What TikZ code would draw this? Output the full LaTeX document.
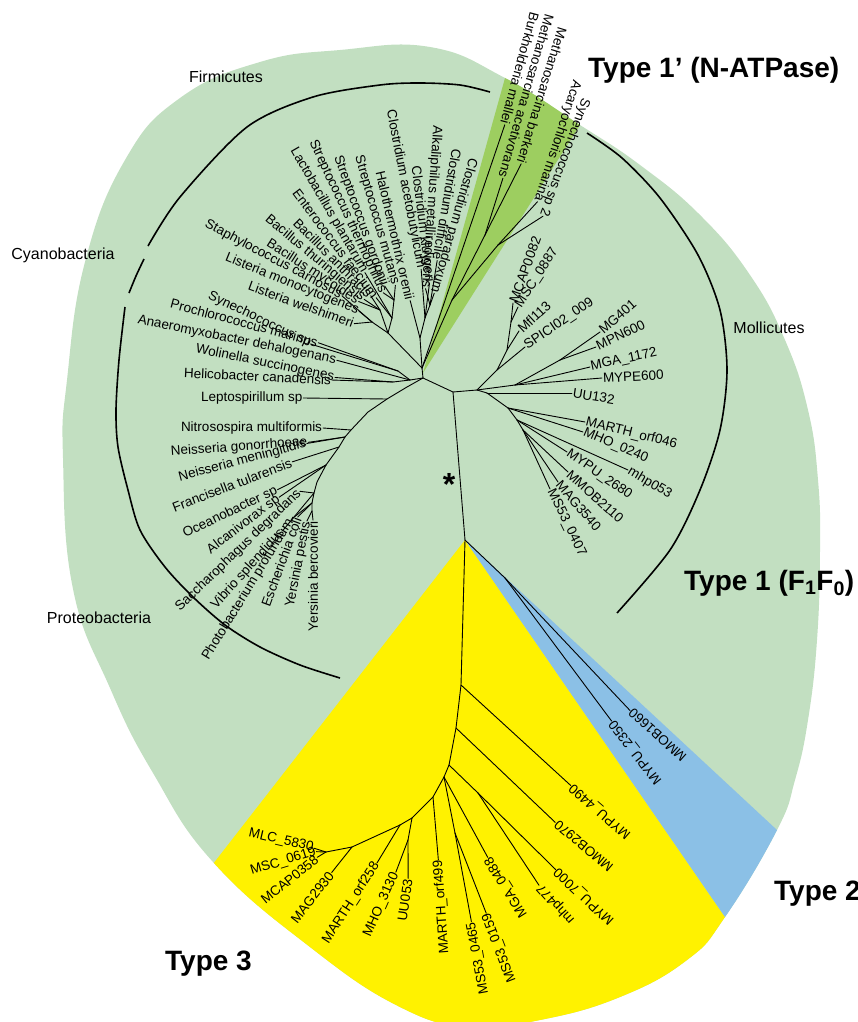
\documentclass[tikz,border=0pt]{standalone}
\usepackage{fontspec}
\setmainfont{Liberation Sans}
\definecolor{lgreen}{RGB}{194,223,193}
\definecolor{dgreen}{RGB}{157,206,96}
\definecolor{yel}{RGB}{255,242,0}
\definecolor{blu}{RGB}{139,192,230}
\tikzset{
 lf/.style={font=\fontsize{13.5}{15}\selectfont, inner sep=1pt, outer sep=0pt, anchor=west},
 br/.style={line width=0.9pt, line cap=round, line join=round},
 clade/.style={line width=1.6pt},
 tlab/.style={font=\fontsize{28}{32}\selectfont\bfseries, anchor=base west, inner sep=0pt},
 clab/.style={font=\fontsize{16}{18}\selectfont, inner sep=0pt},
}
\begin{document}
\begin{tikzpicture}[x=1pt,y=-1pt]
\useasboundingbox (0,0) rectangle (858,1022);
% ---------- background regions ----------
\fill[lgreen] plot[smooth cycle, tension=0.75] coordinates {(430,47) (505,78) (580,125) (640,165) (700,215) (750,275) (785,340) (808,410) (818,480) (820,550) (817,640) (808,720) (795,780) (777,830) (725,917) (687,960) (620,997) (540,1020) (470,1027) (400,1007) (310,947) (213,862) (153,773) (110,688) (73,589) (63,458) (67,380) (85,262) (125,160) (180,98) (260,62) (340,50)};
\begin{scope}
\clip plot[smooth cycle, tension=0.75] coordinates {(430,47) (505,78) (580,125) (640,165) (700,215) (750,275) (785,340) (808,410) (818,480) (820,550) (817,640) (808,720) (795,780) (777,830) (725,917) (687,960) (620,997) (540,1020) (470,1027) (400,1007) (310,947) (213,862) (153,773) (110,688) (73,589) (63,458) (67,380) (85,262) (125,160) (180,98) (260,62) (340,50)};
\fill[dgreen] (423,373) -- (587,-217) -- (737,-123) -- cycle;
\fill[yel] (465,540) -- (-39,1188) -- (985,1294) -- cycle;
\fill[blu] (465,540) -- (985,1294) -- (1089,1120) -- cycle;
\end{scope}
% ---------- clade arcs ----------
\draw[clade] plot[smooth] coordinates {(148,246) (180,197) (247,127) (313,97) (380,85) (420,83) (460,85) (490,92)};
\draw[clade] plot[smooth] coordinates {(144,259) (136,276) (129,293)};
\draw[clade] plot[smooth] coordinates {(125,307) (119,360) (116,410) (118,447) (128,490) (140,530) (165,567) (193,597) (225,625) (260,647) (300,665) (340,678)};
\draw[clade] plot[smooth] coordinates {(587,133) (622,158) (660,198) (698,255) (720,310) (727,370) (720,430) (700,490) (670,550) (617,613)};
% ---------- labels ----------
\node[clab] (firm) at (226,77) {Firmicutes};
\node[clab] (cyan) at (63,255) {Cyanobacteria};
\node[clab] (prot) at (99,618) {Proteobacteria};
\node[clab] (moll) at (769,328) {Mollicutes};
\node[tlab] (t1p) at (588,78) {Type 1’ (N-ATPase)};
\node[tlab] (t1) at (684,590) {Type 1 (F\textsubscript{1}F\textsubscript{0})};
\node[tlab] (t2) at (774,900) {Type 2};
\node[tlab] (t3) at (165,970) {Type 3};
\node[font=\fontsize{32}{34}\selectfont\bfseries, anchor=base, inner sep=0pt] (star) at (449,495) {*};
% ---------- internal nodes ----------
\coordinate (R) at (465,540);
\coordinate (A) at (453,392);
\coordinate (L) at (423,378);
\coordinate (M) at (477,390);
\coordinate (FT) at (422,368);
\coordinate (B) at (388,333);
\coordinate (LSt) at (372,322);
\coordinate (BA) at (380,310);
\coordinate (LA) at (392,318);
\coordinate (ST) at (394,300);
\coordinate (CL) at (420,338);
\coordinate (CL2) at (425,318);
\coordinate (CL3) at (430,305);
\coordinate (T1a) at (452,300);
\coordinate (T1b) at (485,235);
\coordinate (T1c) at (498,245);
\coordinate (Cy) at (410,380);
\coordinate (Cy1) at (398,371);
\coordinate (Cy2) at (393,382);
\coordinate (P1) at (407,387);
\coordinate (P2) at (387,399);
\coordinate (P3) at (368,412);
\coordinate (P4) at (351,430);
\coordinate (P5) at (345,437);
\coordinate (P6) at (339,447);
\coordinate (P7) at (326,465);
\coordinate (P8) at (317,482);
\coordinate (G1) at (314,493);
\coordinate (G2) at (312,503);
\coordinate (G3) at (312,511);
\coordinate (Q1) at (497,370);
\coordinate (Q2) at (507,350);
\coordinate (Q3) at (511,322);
\coordinate (N2) at (487,393);
\coordinate (N3) at (515,385);
\coordinate (N4) at (560,360);
\coordinate (N5) at (508,408);
\coordinate (N6) at (517,420);
\coordinate (N7) at (523,430);
\coordinate (T2) at (505,578);
\coordinate (Y1) at (461,685);
\coordinate (Y2) at (456,728);
\coordinate (Y3) at (449,765);
\coordinate (Y3b) at (478,793);
\coordinate (Y4) at (444,777);
\coordinate (Y4b) at (455,833);
\coordinate (Y5) at (433,797);
\coordinate (Y6) at (412,818);
\coordinate (Y7) at (408,840);
\coordinate (Y8) at (400,825);
\coordinate (Y9) at (352,847);
\coordinate (Y10) at (326,852);
% ---------- leaves: Firmicutes ----------
\node[lf, rotate=-20] (lwel) at (248,285) {Listeria welshimeri};
\node[lf, rotate=-22] (lmon) at (225,257) {Listeria monocytogenes};
\node[lf, rotate=-28] (scar) at (205,223) {Staphylococcus carnosus};
\node[lf, rotate=-33] (bmyc) at (267,242) {Bacillus mycoides};
\node[lf, rotate=-40] (bthu) at (266,217) {Bacillus thuringiensis};
\node[lf, rotate=-45] (bant) at (295,220) {Bacillus anthracis};
\node[lf, rotate=-53] (efae) at (295,190) {Enterococcus faecium};
\node[lf, rotate=-60] (lpla) at (293,148) {Lactobacillus plantarum};
\node[lf, rotate=-65] (sthe) at (312,140) {Streptococcus thermophilus};
\node[lf, rotate=-70] (sgor) at (337,155) {Streptococcus gordonii};
\node[lf, rotate=-74] (smut) at (358,155) {Streptococcus mutans};
\node[lf, rotate=-77] (hore) at (380,170) {Halothermothrix orenii};
\node[lf, rotate=-79] (cace) at (390,109) {Clostridium acetobutylicum};
\node[lf, rotate=-83] (cklu) at (415,165) {Clostridium kluyveri};
\node[lf, rotate=-94] (amet) at (437,125) {Alkaliphilus metalliredigens};
\node[lf, rotate=-100] (cdif) at (457,148) {Clostridium difficile};
\node[lf, rotate=-106] (cpar) at (473,158) {Clostridium paradoxum};
% ---------- leaves: Type 1' ----------
\node[lf, rotate=-105] (bmal) at (535,12) {Burkholderia mallei};
\node[lf, rotate=-106] (mace) at (550,14) {Methanosarcina acetivorans};
\node[lf, rotate=-107] (mbar) at (563,27) {Methanosarcina barkeri};
\node[lf, rotate=-108] (amar) at (577,80) {Acaryochloris marina};
\node[lf, rotate=-110] (syn2) at (586,98) {Synechococcus sp 2};
% ---------- leaves: other bacteria ----------
\node[lf, rotate=-25.5] (syn) at (208,295) {Synechococcus sp};
\node[lf, rotate=-15] (pro) at (170,303) {Prochlorococcus marinus};
\node[lf, rotate=-11.4] (ana) at (137,320) {Anaeromyxobacter dehalogenans};
\node[lf, rotate=-11.5] (wol) at (195,349) {Wolinella succinogenes};
\node[lf, rotate=-2.7] (hel) at (183,373) {Helicobacter canadensis};
\node[lf] (lep) at (200,398) {Leptospirillum sp};
\node[lf] (nit) at (180,428) {Nitrosospira multiformis};
\node[lf, rotate=4] (ngo) at (170,452) {Neisseria gonorrhoeae};
\node[lf, rotate=15] (nme) at (178,478) {Neisseria meningitidis};
\node[lf, rotate=21] (ftu) at (172,508) {Francisella tularensis};
\node[lf, rotate=25.6] (oce) at (183,535) {Oceanobacter sp};
\node[lf, rotate=37.6] (alc) at (208,552) {Alcanivorax sp};
\node[lf, rotate=44] (sac) at (177,610) {Saccharophagus degradans};
\node[lf, rotate=48] (vib) at (213,608) {Vibrio splendidus};
\node[lf, rotate=58.5] (pho) at (205,660) {Photobacterium profundum};
\node[lf, rotate=70] (eco) at (265,607) {Escherichia coli};
\node[lf, rotate=79] (ype) at (290,608) {Yersinia pestis};
\node[lf, rotate=90] (ybe) at (313,632) {Yersinia bercovieri};
% ---------- leaves: Mollicutes type 1 ----------
\node[lf, rotate=70] (mcap) at (513,303) {MCAP0082};
\node[lf, rotate=57] (msc) at (518,307) {MSC\_0887};
\node[lf, rotate=43] (mfl) at (519,331) {Mfl113};
\node[lf, rotate=34] (spi) at (525,347) {SPICI02\_009};
\node[lf, rotate=41] (mg) at (600,332) {MG401};
\node[lf, rotate=26] (mpn) at (596,347) {MPN600};
\node[lf, rotate=12] (mga) at (590,367) {MGA\_1172};
\node[lf, rotate=3] (mype) at (602,378) {MYPE600};
\node[lf, rotate=-9] (uu) at (572,393) {UU132};
\node[lf, rotate=-14] (marth) at (585,422) {MARTH\_orf046};
\node[lf, rotate=-23] (mho) at (583,432) {MHO\_0240};
\node[lf, rotate=-31] (mhp) at (628,470) {mhp053};
\node[lf, rotate=-35] (mypu) at (567,452) {MYPU\_2680};
\node[lf, rotate=-42] (mmob) at (568,472) {MMOB2110};
\node[lf, rotate=-49] (mag) at (558,482) {MAG3540};
\node[lf, rotate=-64] (ms53) at (550,489) {MS53\_0407};
% ---------- leaves: type 2 ----------
\node[lf, rotate=138] (mmob16) at (685,760) {MMOB1660};
\node[lf, rotate=128] (mypu23) at (660,783) {MYPU\_2350};
% ---------- leaves: type 3 ----------
\node[lf, rotate=139] (m4490) at (630,837) {MYPU\_4490};
\node[lf, rotate=140] (m2970) at (612,870) {MMOB2970};
\node[lf, rotate=137] (m7000) at (613,923) {MYPU\_7000};
\node[lf, rotate=132] (mhp477) at (573,923) {mhp477};
\node[lf, rotate=122] (mga0488) at (525,917) {MGA\_0488};
\node[lf, rotate=111] (ms0159) at (513,983) {MS53\_0159};
\node[lf, rotate=100.5] (ms0465) at (485,995) {MS53\_0465};
\node[lf, rotate=94] (mo499) at (445,955) {MARTH\_orf499};
\node[lf, rotate=82] (uu053) at (402,922) {UU053};
\node[lf, rotate=66] (mho3130) at (367,937) {MHO\_3130};
\node[lf, rotate=57] (mo258) at (325,943) {MARTH\_orf258};
\node[lf, rotate=52] (mag2930) at (293,922) {MAG2930};
\node[lf, rotate=39] (mcap0358) at (262,902) {MCAP0358};
\node[lf, rotate=17] (msc0619) at (250,872) {MSC\_0619};
\node[lf, rotate=-13] (mlc5830) at (248,833) {MLC\_5830};
% ---------- branches ----------
\draw[br] (R) -- (A);
\draw[br] (A) -- (L);
\draw[br] (A) -- (M);
\draw[br] (L) -- (FT);
\draw[br] (FT) -- (B);
\draw[br] (B) -- (LSt);
\draw[br] (B) -- (BA);
\draw[br] (B) -- (LA);
\draw[br] (LA) -- (ST);
\draw[br] (LSt) -- (lwel.east);
\draw[br] (LSt) -- (lmon.east);
\draw[br] (LSt) -- (scar.east);
\draw[br] (BA) -- (bmyc.east);
\draw[br] (BA) -- (bthu.east);
\draw[br] (BA) -- (bant.east);
\draw[br] (LA) -- (efae.east);
\draw[br] (LA) -- (lpla.east);
\draw[br] (ST) -- (sthe.east);
\draw[br] (ST) -- (sgor.east);
\draw[br] (ST) -- (smut.east);
\draw[br] (FT) -- (CL);
\draw[br] (CL) -- (hore.east);
\draw[br] (CL) -- (CL2);
\draw[br] (CL2) -- (cace.east);
\draw[br] (CL2) -- (cklu.east);
\draw[br] (CL2) -- (CL3);
\draw[br] (CL3) -- (amet.east);
\draw[br] (CL3) -- (cdif.east);
\draw[br] (CL3) -- (cpar.east);
\draw[br] (FT) -- (bmal.east);
\draw[br] (FT) -- (T1a);
\draw[br] (T1a) -- (T1b);
\draw[br] (T1a) -- (T1c);
\draw[br] (T1b) -- (mace.east);
\draw[br] (T1b) -- (mbar.east);
\draw[br] (T1c) -- (amar.east);
\draw[br] (T1c) -- (syn2.east);
\draw[br] (L) -- (Cy);
\draw[br] (Cy) -- (Cy1);
\draw[br] (Cy) -- (Cy2);
\draw[br] (Cy1) -- (syn.east);
\draw[br] (Cy1) -- (pro.east);
\draw[br] (Cy) -- (ana.east);
\draw[br] (Cy2) -- (wol.east);
\draw[br] (Cy2) -- (hel.east);
\draw[br] (L) -- (P1) -- (P2) -- (P3) -- (P4) -- (P5) -- (P6) -- (P7) -- (P8) -- (G1) -- (G2) -- (G3);
\draw[br] (P2) -- (lep.east);
\draw[br] (P4) -- (nit.east);
\draw[br] (P5) -- (ngo.east);
\draw[br] (P5) -- (nme.east);
\draw[br] (P6) -- (ftu.east);
\draw[br] (P7) -- (oce.east);
\draw[br] (P7) -- (alc.east);
\draw[br] (G1) -- (sac.east);
\draw[br] (G1) -- (vib.east);
\draw[br] (G2) -- (pho.east);
\draw[br] (G2) -- (eco.east);
\draw[br] (G3) -- (ype.east);
\draw[br] (G3) -- (ybe.east);
% Mollicutes
\draw[br] (M) -- (Q1) -- (Q2) -- (Q3);
\draw[br] (Q3) -- (mcap.west);
\draw[br] (Q3) -- (msc.west);
\draw[br] (Q2) -- (mfl.west);
\draw[br] (Q1) -- (spi.west);
\draw[br] (M) -- (N3);
\draw[br] (N3) -- (N4);
\draw[br] (N4) -- (mg.west);
\draw[br] (N4) -- (mpn.west);
\draw[br] (N3) -- (mga.west);
\draw[br] (N3) -- (mype.west);
\draw[br] (M) -- (N2);
\draw[br] (N2) -- (uu.west);
\draw[br] (N2) -- (N5);
\draw[br] (N5) -- (marth.west);
\draw[br] (N5) -- (mho.west);
\draw[br] (N5) -- (N6);
\draw[br] (N6) -- (mhp.west);
\draw[br] (N6) -- (mypu.west);
\draw[br] (N6) -- (N7);
\draw[br] (N7) -- (mmob.west);
\draw[br] (N7) -- (mag.west);
\draw[br] (N7) -- (ms53.west);
% type 2
\draw[br] (R) -- (T2);
\draw[br] (T2) -- (mmob16.east);
\draw[br] (T2) -- (mypu23.east);
% type 3
\draw[br] (R) -- (Y1) -- (Y2) -- (Y3) -- (Y4) -- (Y5) -- (Y6);
\draw[br] (Y1) -- (m4490.east);
\draw[br] (Y2) -- (m2970.east);
\draw[br] (Y3) -- (Y3b);
\draw[br] (Y3b) -- (m7000.east);
\draw[br] (Y3b) -- (mhp477.east);
\draw[br] (Y4) -- (mga0488.east);
\draw[br] (Y4) -- (Y4b);
\draw[br] (Y4b) -- (ms0159.east);
\draw[br] (Y4b) -- (ms0465.east);
\draw[br] (Y5) -- (mo499.east);
\draw[br] (Y6) -- (Y7);
\draw[br] (Y7) -- (uu053.east);
\draw[br] (Y7) -- (mho3130.east);
\draw[br] (Y6) -- (Y8);
\draw[br] (Y8) -- (mo258.east);
\draw[br] (Y8) -- (Y9);
\draw[br] (Y9) -- (mag2930.east);
\draw[br] (Y9) -- (Y10);
\draw[br] (Y10) -- (mcap0358.east);
\draw[br] (Y10) -- (msc0619.east);
\draw[br] (Y10) -- (mlc5830.east);
\end{tikzpicture}
\end{document}
